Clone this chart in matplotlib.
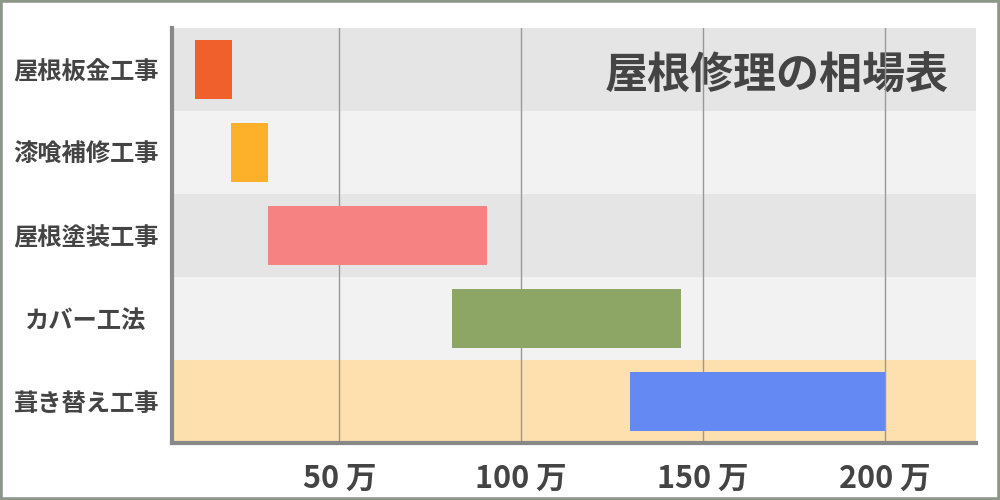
import matplotlib
matplotlib.use("Agg")
import matplotlib.pyplot as plt
from matplotlib.patches import Rectangle

plt.rcParams['font.family'] = ['Noto Sans CJK JP', 'DejaVu Sans']

works = ['屋根板金工事', '漆喰補修工事', '屋根塗装工事', 'カバー工法', '葺き替え工事']
low = [10.3, 20.3, 30.5, 81, 130]     # 万円
high = [20.5, 30.5, 90.5, 144, 200]
xticks = [50, 100, 150, 200]
xtick_labels = ['50 万', '100 万', '150 万', '200 万']
title = '屋根修理の相場表'

bar_colors = ['#f0602c', '#fdb12b', '#f78282', '#8da666', '#6589f2']
band_colors = ['#e5e5e5', '#f2f2f2', '#e5e5e5', '#f2f2f2', '#fde0ad']
text_col = '#444444'

fig = plt.figure(figsize=(10, 5), dpi=100)
ax = fig.add_axes([0.172, 0.114, 0.804, 0.830])

for i, c in enumerate(band_colors):
    ax.axhspan(i - 0.5, i + 0.5, color=c, zorder=0, lw=0)

ax.barh(range(len(works)), [h - l for l, h in zip(low, high)], left=low,
        height=0.7, color=bar_colors, zorder=3)

for t in xticks:
    ax.axvline(t, color='#999999', lw=1, zorder=2)

ax.set_xlim(4, 225)
ax.set_ylim(len(works) - 0.5, -0.5)

ax.set_yticks(range(len(works)))
ax.set_yticklabels(works, fontsize=17.5, fontweight='bold', color=text_col)
for lab in ax.get_yticklabels():
    lab.set_horizontalalignment('center')
ax.tick_params(axis='y', length=0, pad=62)

ax.set_xticks(xticks)
ax.set_xticklabels(xtick_labels, fontsize=22, fontweight='bold', color=text_col)
ax.tick_params(axis='x', length=0, pad=14)

for s in ['top', 'right']:
    ax.spines[s].set_visible(False)
for s in ['left', 'bottom']:
    ax.spines[s].set_color('#888888')
    ax.spines[s].set_linewidth(3)

ax.text(0.752, 0.885, title, transform=ax.transAxes, ha='center', va='center',
        fontsize=31, fontweight='bold', color=text_col, zorder=1)

fig.patches.append(Rectangle((0, 0), 1, 1, transform=fig.transFigure, fill=False,
                             edgecolor='#8c9689', lw=4, zorder=10))

fig.savefig('out.png', dpi=100, facecolor='white')
